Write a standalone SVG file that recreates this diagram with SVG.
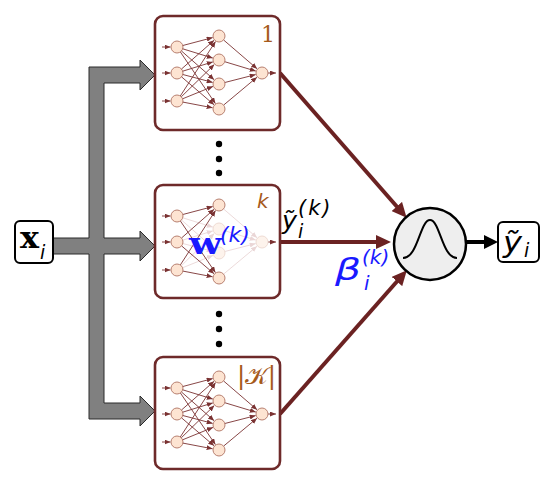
<svg xmlns="http://www.w3.org/2000/svg" xmlns:xlink="http://www.w3.org/1999/xlink" width="550" height="484" viewBox="0 0 550 484">
<style>
.box{fill:#fff;stroke:#6e2a2a;stroke-width:2.6}
.e{stroke:#7a3232;stroke-width:0.9;fill:none;marker-end:url(#sa)}
.ef{stroke:#ead6d6;stroke-width:0.9;fill:none;marker-end:url(#saf)}
.n{fill:#fde4d2;stroke:#b88070;stroke-width:1}
.nf{fill:#fdf3ec;stroke:#efdcd4;stroke-width:1}
.con{stroke:#6b2222;stroke-width:4;fill:none;marker-end:url(#ba)}
.lab{font-family:"DejaVu Sans",sans-serif;font-style:italic;fill:#a65a1c}
.m{font-family:"DejaVu Sans",sans-serif;font-style:italic}
.blue{fill:#1a1aff}
</style>
<defs>
<marker id="sa" markerUnits="userSpaceOnUse" markerWidth="6" markerHeight="5" refX="6" refY="2.5" orient="auto"><path d="M0,0 L6,2.5 L0,5 z" fill="#7a3232"/></marker>
<marker id="saf" markerUnits="userSpaceOnUse" markerWidth="6" markerHeight="5" refX="6" refY="2.5" orient="auto"><path d="M0,0 L6,2.5 L0,5 z" fill="#ead6d6"/></marker>
<marker id="ba" markerUnits="userSpaceOnUse" markerWidth="16" markerHeight="14" refX="4" refY="7" orient="auto"><path d="M0,0 L15,7 L0,14 z" fill="#6b2222"/></marker>
<marker id="ka" markerUnits="userSpaceOnUse" markerWidth="14" markerHeight="14" refX="4" refY="7" orient="auto"><path d="M0,0 L14,7 L0,14 z" fill="#000"/></marker>
<g id="inout">
<line class="e" x1="7" y1="31" x2="15.5" y2="31"/>
<line class="e" x1="7" y1="57" x2="15.5" y2="57"/>
<line class="e" x1="7" y1="85" x2="15.5" y2="85"/>
<circle class="n" cx="22" cy="31" r="6"/>
<circle class="n" cx="22" cy="57" r="6"/>
<circle class="n" cx="22" cy="85" r="6"/>
</g>
<g id="nn">
<use xlink:href="#inout"/>
<line class="e" x1="27.8" y1="29.5" x2="57.7" y2="21.6"/>
<line class="e" x1="27.7" y1="32.8" x2="57.8" y2="42.1"/>
<line class="e" x1="26.5" y1="35" x2="59.1" y2="63.7"/>
<line class="e" x1="25.4" y1="36" x2="60.4" y2="87.6"/>
<line class="e" x1="26.5" y1="53" x2="59.1" y2="24.3"/>
<line class="e" x1="27.7" y1="55.2" x2="57.8" y2="45.9"/>
<line class="e" x1="27.8" y1="58.5" x2="57.7" y2="66.4"/>
<line class="e" x1="26.6" y1="60.9" x2="59.1" y2="88.8"/>
<line class="e" x1="25.3" y1="80" x2="60.5" y2="25.5"/>
<line class="e" x1="26.3" y1="80.8" x2="59.3" y2="48.5"/>
<line class="e" x1="27.6" y1="82.8" x2="58" y2="70.4"/>
<line class="e" x1="27.9" y1="86.1" x2="57.6" y2="91.8"/>
<line class="e" x1="68.5" y1="23.9" x2="102.1" y2="52.8"/>
<line class="e" x1="69.7" y1="45.7" x2="100.8" y2="55.1"/>
<line class="e" x1="69.8" y1="66.5" x2="100.7" y2="58.6"/>
<line class="e" x1="68.6" y1="89.1" x2="102" y2="61.2"/>
<line class="e" x1="113" y1="57" x2="121" y2="57"/>
<circle class="n" cx="64" cy="20" r="6"/>
<circle class="n" cx="64" cy="44" r="6"/>
<circle class="n" cx="64" cy="68" r="6"/>
<circle class="n" cx="64" cy="93" r="6"/>
<circle class="n" cx="107" cy="57" r="6"/>
</g>
</defs>

<g id="connectors">
<polygon points="89,67 140,67 140,60 155,75 140,90 140,83 104,83 104,238 140,238 140,231 155,246 140,261 140,254 104,254 104,403 140,403 140,396 155,411 140,426 140,419 89,419 89,254 53,254 53,238 89,238" fill="#808080" stroke="#2a2a2a" stroke-width="1"/>
<line class="con" x1="280" y1="73" x2="399.4" y2="209.5"/>
<line class="con" x1="280" y1="242" x2="380" y2="242"/>
<line class="con" x1="280" y1="414" x2="399.6" y2="278.5"/>
<line x1="466" y1="242" x2="488" y2="242" stroke="#000" stroke-width="4" marker-end="url(#ka)"/>
</g>

<g id="input-x">
<rect x="15" y="221" width="38" height="42" rx="5" fill="#fff" stroke="#000" stroke-width="2"/>
<text x="20" y="248" font-family="DejaVu Serif,serif" font-weight="bold" font-size="29" textLength="19" lengthAdjust="spacingAndGlyphs">x</text>
<text x="40" y="259" class="m" font-size="19">i</text>
</g>

<g id="model-1">
<rect class="box" x="155" y="16" width="125" height="114" rx="8"/>
<use xlink:href="#nn" transform="translate(155,16)"/>
<text x="261" y="42" font-family="DejaVu Serif,serif" font-size="22" fill="#a65a1c">1</text>
</g>

<g id="dots-top">
<circle cx="219" cy="144" r="3.2"/>
<circle cx="219" cy="159" r="3.2"/>
<circle cx="219" cy="173" r="3.2"/>
</g>

<g id="model-k">
<rect class="box" x="155" y="185" width="125" height="113" rx="8"/>
<g transform="translate(155,185)">
<line class="ef" x1="27.7" y1="32.8" x2="57.8" y2="42.1"/>
<line class="ef" x1="26.5" y1="35" x2="59.1" y2="63.7"/>
<line class="ef" x1="27.7" y1="55.2" x2="57.8" y2="45.9"/>
<line class="ef" x1="27.8" y1="58.5" x2="57.7" y2="66.4"/>
<line class="ef" x1="26.3" y1="80.8" x2="59.3" y2="48.5"/>
<line class="ef" x1="27.6" y1="82.8" x2="58" y2="70.4"/>
<line class="ef" x1="68.5" y1="23.9" x2="102.1" y2="52.8"/>
<line class="ef" x1="69.7" y1="45.7" x2="100.8" y2="55.1"/>
<line class="ef" x1="69.8" y1="66.5" x2="100.7" y2="58.6"/>
<line class="ef" x1="68.6" y1="89.1" x2="102" y2="61.2"/>
<line class="e" x1="27.8" y1="29.5" x2="57.7" y2="21.6"/>
<line class="e" x1="25.4" y1="36" x2="60.4" y2="87.6"/>
<line class="e" x1="26.5" y1="53" x2="59.1" y2="24.3"/>
<line class="e" x1="26.6" y1="60.9" x2="59.1" y2="88.8"/>
<line class="e" x1="25.3" y1="80" x2="60.5" y2="25.5"/>
<line class="e" x1="27.9" y1="86.1" x2="57.6" y2="91.8"/>
<line class="e" x1="113" y1="57" x2="121" y2="57"/>
<use xlink:href="#inout"/>
<circle class="n" cx="64" cy="20" r="6"/>
<circle class="nf" cx="64" cy="44" r="6"/>
<circle class="nf" cx="64" cy="68" r="6"/>
<circle class="n" cx="64" cy="93" r="6"/>
<circle class="nf" cx="107" cy="57" r="6"/>
</g>
<text x="257" y="208" class="lab" font-size="20">k</text>
<text x="189" y="254" font-family="DejaVu Serif,serif" font-weight="bold" font-size="30" class="blue" textLength="33" lengthAdjust="spacingAndGlyphs">w</text>
<text x="220" y="242" class="m blue" font-size="22">(k)</text>
</g>

<g id="dots-bottom">
<circle cx="219" cy="314" r="3.2"/>
<circle cx="219" cy="329" r="3.2"/>
<circle cx="219" cy="344" r="3.2"/>
</g>

<g id="model-K">
<rect class="box" x="155" y="357" width="125" height="112" rx="8"/>
<use xlink:href="#nn" transform="translate(155,357)"/>
<text x="237" y="384" font-family="DejaVu Sans,sans-serif" font-size="24" fill="#a65a1c" textLength="39" lengthAdjust="spacingAndGlyphs">|𝒦|</text>
</g>

<g id="labels">
<text x="282" y="229" class="m" font-size="25" textLength="15" lengthAdjust="spacingAndGlyphs">ỹ</text>
<text x="298" y="238" class="m" font-size="19">i</text>
<text x="298" y="215" class="m" font-size="21" letter-spacing="2">(k)</text>
<text x="335" y="280" class="m blue" font-size="30" textLength="26" lengthAdjust="spacingAndGlyphs">β</text>
<text x="364" y="290" class="m blue" font-size="20">i</text>
<text x="362" y="264" class="m blue" font-size="20">(k)</text>
</g>

<g id="combiner">
<circle cx="430" cy="244" r="36" fill="#eeeeee" stroke="#000" stroke-width="2.5"/>
<path d="M403,258 C418,258 420,220 430,220 C440,220 442,258 457,258" fill="none" stroke="#000" stroke-width="2"/>
</g>

<g id="output-y">
<rect x="498" y="222" width="41" height="40" rx="5" fill="#fff" stroke="#000" stroke-width="2"/>
<text x="503" y="252" class="m" font-size="28" textLength="19" lengthAdjust="spacingAndGlyphs">ỹ</text>
<text x="524" y="257" class="m" font-size="19">i</text>
</g>
</svg>
